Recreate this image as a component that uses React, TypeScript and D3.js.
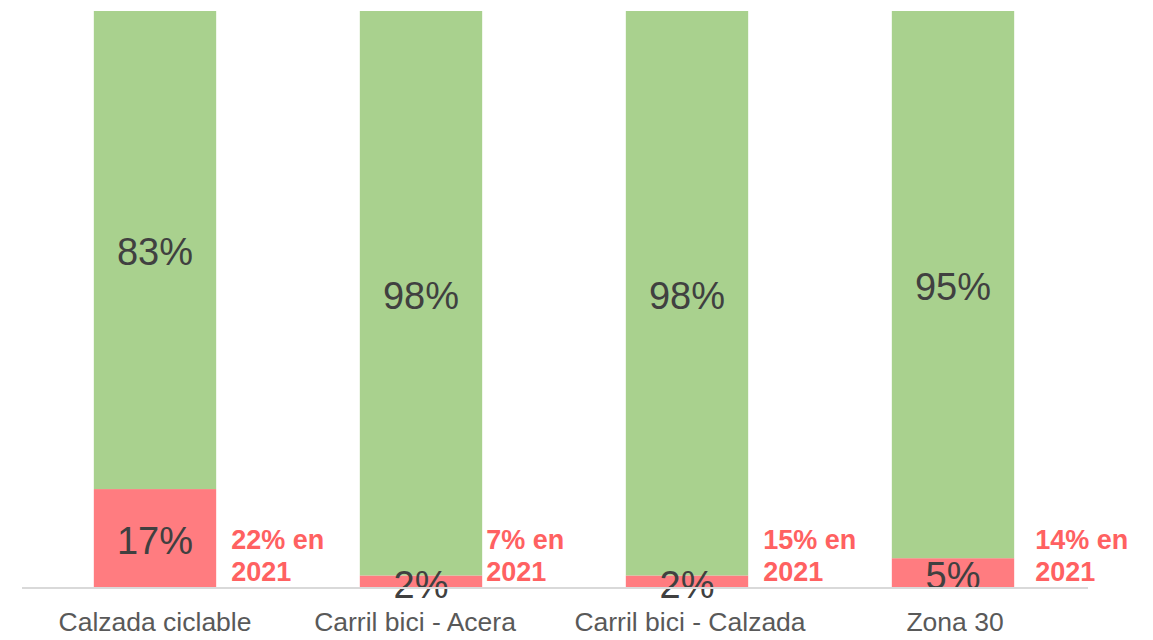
import * as React from "react";
import * as d3 from "d3";

const categories = ["Calzada ciclable", "Carril bici - Acera", "Carril bici - Calzada", "Zona 30"];
const redValues = [17, 2, 2, 5];
const greenValues = [83, 98, 98, 95];
const notes2021 = ["22% en", "7% en", "15% en", "14% en"];

const width = 1153;
const height = 640;
const greenColor = "#A9D18E";
const redColor = "#FF7C80";

// small manual nudges for the text boxes (as placed in the original)
const noteNudge = [0, -11, 0, 6];
const catNudge = [0, -6, 3, 2];

export default function App() {
  const ref = React.useRef<SVGSVGElement | null>(null);

  React.useEffect(() => {
    const svg = d3.select(ref.current);
    svg.selectAll("*").remove();

    const x = d3.scaleBand<string>().domain(categories).range([22, 1086]).paddingInner(0.54).paddingOuter(0.27);
    const y = d3.scaleLinear([0, 100], [587, 11]);

    const rows = categories.map((c, i) => ({ c, i, red: redValues[i], green: greenValues[i], note: notes2021[i] }));

    const g = svg.append("g");

    // red (bottom) segment
    g.selectAll(".red")
      .data(rows)
      .enter()
      .append("rect")
      .attr("x", (d) => x(d.c)!)
      .attr("width", x.bandwidth())
      .attr("y", (d) => y(d.red))
      .attr("height", (d) => y(0) - y(d.red))
      .attr("fill", redColor);

    // green (top) segment
    g.selectAll(".green")
      .data(rows)
      .enter()
      .append("rect")
      .attr("x", (d) => x(d.c)!)
      .attr("width", x.bandwidth())
      .attr("y", (d) => y(d.red + d.green))
      .attr("height", (d) => y(d.red) - y(d.red + d.green))
      .attr("fill", greenColor);

    // axis line
    svg
      .append("line")
      .attr("x1", 22)
      .attr("x2", 1088)
      .attr("y1", y(0) + 1)
      .attr("y2", y(0) + 1)
      .attr("stroke", "#D9D9D9")
      .attr("stroke-width", 2);

    const font = "'Liberation Sans', Arial, sans-serif";

    // values in segments
    g.selectAll(".greenLabel")
      .data(rows)
      .enter()
      .append("text")
      .attr("x", (d) => x(d.c)! + x.bandwidth() / 2)
      .attr("y", (d) => (y(d.red) + y(d.red + d.green)) / 2 + 2)
      .attr("dy", "0.35em")
      .attr("text-anchor", "middle")
      .attr("font-family", font)
      .attr("font-size", 38)
      .attr("fill", "#404040")
      .text((d) => d.green + "%");

    g.selectAll(".redLabel")
      .data(rows)
      .enter()
      .append("text")
      .attr("x", (d) => x(d.c)! + x.bandwidth() / 2)
      .attr("y", (d) => (y(0) + y(d.red)) / 2 + 3)
      .attr("dy", "0.35em")
      .attr("text-anchor", "middle")
      .attr("font-family", font)
      .attr("font-size", 38)
      .attr("fill", "#404040")
      .text((d) => d.red + "%");

    // 2021 notes
    const noteX = (d: { c: string; i: number }) => x(d.c)! + x.bandwidth() + 15 + noteNudge[d.i];
    const notes = g
      .selectAll(".note")
      .data(rows)
      .enter()
      .append("text")
      .attr("x", noteX)
      .attr("y", 549)
      .attr("font-family", font)
      .attr("font-size", 27)
      .attr("font-weight", "bold")
      .attr("fill", "#FF6161");
    notes.append("tspan").text((d) => d.note);
    notes
      .append("tspan")
      .attr("x", noteX)
      .attr("dy", 32)
      .text("2021");

    // category labels
    g.selectAll(".cat")
      .data(rows)
      .enter()
      .append("text")
      .attr("x", (d) => x(d.c)! + x.bandwidth() / 2 + catNudge[d.i])
      .attr("y", 631)
      .attr("text-anchor", "middle")
      .attr("font-family", font)
      .attr("font-size", 26.5)
      .attr("fill", "#595959")
      .text((d) => d.c);
  }, []);

  return (
    <svg
      ref={ref}
      width={width}
      height={height}
      style={{ position: "absolute", left: 0, top: 0, background: "#fff" }}
    />
  );
}
